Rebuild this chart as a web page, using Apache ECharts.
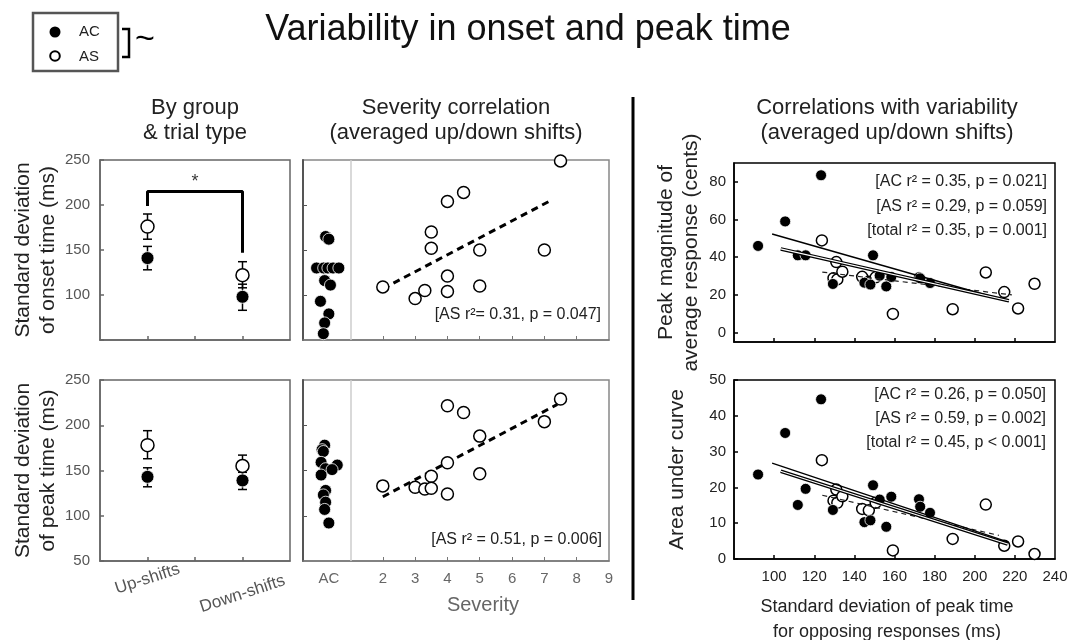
<!DOCTYPE html>
<html>
<head>
<meta charset="utf-8">
<title>Variability in onset and peak time</title>
<script src="https://cdn.jsdelivr.net/npm/echarts@6/dist/echarts.min.js"></script>
<style>
  html, body { margin: 0; padding: 0; background: #fff; }
  #chart { width: 1083px; height: 640px; }
</style>
</head>
<body>
<div id="chart"></div>
<script>
// ---- data ----
// left column: group means with error bar bounds, x = 1 up-shifts, x = 3 down-shifts
const trialTypes = ['Up-shifts', 'Down-shifts'];
const trialPos = [1, 3];
const onsetAC = [141, 98];
const onsetACLow = [128, 83];
const onsetACHigh = [154, 112];
const onsetAS = [176, 122];
const onsetASLow = [162, 108];
const onsetASHigh = [190, 137];
const peakAC = [143, 139];
const peakACLow = [132, 129];
const peakACHigh = [153, 148];
const peakAS = [178, 155];
const peakASLow = [163, 143];
const peakASHigh = [194, 167];
const sigBracket = [[1, 199], [1, 215], [3, 215], [3, 147]];
const sigStar = [2, 226];

// middle column: AC column (jittered) and AS severity correlation
const acOnsetJitter = [0.23, 0.33, -0.05, 0.17, 0.3, 0.46, 0.64, 0.2, 0.38, 0.07, 0.33, 0.2, 0.16];
const acOnsetSD = [165, 162, 130, 130, 130, 130, 130, 116, 111, 93, 79, 69, 57];
const acPeakJitter = [0.2, 0.12, 0.16, 0.09, 0.23, 0.59, 0.43, 0.09, 0.23, 0.16, 0.23, 0.2, 0.33];
const acPeakSD = [178, 173, 171, 159, 152, 156, 151, 145, 128, 123, 115, 107, 92];
const asSeverity = [2, 3, 3.3, 3.5, 3.5, 4, 4, 4, 4.5, 5, 5, 7, 7.5];
const asOnsetSD = [109, 96, 105, 170, 152, 204, 121, 104, 214, 150, 110, 150, 249];
const asPeakSD = [133, 131.5, 129.6, 143.7, 130.4, 221.5, 158.5, 124.1, 214, 188, 146.3, 204, 229];
const severityTicks = [2, 3, 4, 5, 6, 7, 8, 9];
const onsetFit = [[2, 107], [7.25, 206]];
const peakFit = [[2, 121], [7.4, 223]];

// right column: variability of peak time vs response measures
const acPeakTime = [92, 105.5, 111.8, 115.7, 123.4, 129.3, 145, 148, 149.3, 152.6, 155.9, 158.4, 172.2, 172.8, 177.7];
const acMagnitude = [46, 59, 41, 41, 83.5, 25.8, 26.5, 25.5, 41, 30.2, 24.5, 29.5, 29.4, 28.8, 26.3];
const acArea = [23.6, 35.2, 15.1, 19.6, 44.6, 13.7, 10.3, 10.8, 20.6, 16.6, 9.0, 17.4, 16.7, 14.6, 12.9];
const asPeakTime = [123.8, 129.6, 131, 131.5, 134, 143.9, 147.2, 150.6, 159.2, 189, 205.5, 214.7, 221.6, 229.8];
const asMagnitude = [48.9, 28.9, 37.4, 28.2, 32.3, 29.6, 27, 29.3, 9.9, 12.4, 31.9, 21.5, 12.8, 25.9];
const asArea = [27.6, 16.3, 19.4, 15.7, 17.5, 14, 13.6, 15.7, 2.4, 5.6, 15.2, 3.7, 4.9, 1.4];
const magFitAC = [[99, 52.3], [217, 16.5]];
const magFitTotal = [[103.3, 44.4], [217, 16.9]];
const magFitAS = [[124, 32.1], [218.5, 20]];
const areaFitAC = [[99, 26.8], [216.4, 4.8]];
const areaFitTotal = [[103.3, 24.5], [216.4, 4.2]];
const areaFitAS = [[124, 17.8], [212, 6.6]];
const peakTimeTicks = [100, 120, 140, 160, 180, 200, 220, 240];

const statsOnset = '[AS r²= 0.31, p = 0.047]';
const statsPeak = '[AS r² = 0.51, p = 0.006]';
const statsMagnitude = ['[AC r² = 0.35, p = 0.021]', '[AS r² = 0.29, p = 0.059]', '[total r² = 0.35, p = 0.001]'];
const statsArea = ['[AC r² = 0.26, p = 0.050]', '[AS r² = 0.59, p = 0.002]', '[total r² = 0.45, p < 0.001]'];

// ---- styles ----
const FONT = '"Liberation Sans", Arial, Helvetica, sans-serif';
const filled = { color: '#000', borderColor: '#fff', borderWidth: 0.8, opacity: 1 };
const open = { color: '#fff', borderColor: '#000', borderWidth: 1.5, opacity: 1 };

const chart = echarts.init(document.getElementById('chart'));

function zip(xs, ys) {
  return xs.map((x, i) => [x, ys[i]]);
}

function scatter(idx, data, style, size, z) {
  return {
    type: 'scatter', xAxisIndex: idx, yAxisIndex: idx,
    data: data, symbol: 'circle', symbolSize: size,
    itemStyle: style, z: z, silent: true
  };
}

function fitLine(idx, data, lineStyle, z) {
  return {
    type: 'line', xAxisIndex: idx, yAxisIndex: idx,
    data: data, showSymbol: false, symbol: 'none',
    lineStyle: lineStyle, z: z, silent: true
  };
}

function errorBars(idx, low, high) {
  return {
    type: 'custom', xAxisIndex: idx, yAxisIndex: idx, z: 2, silent: true,
    data: trialPos.map((x, i) => [x, low[i], high[i]]),
    renderItem: (params, api) => {
      const lo = api.coord([api.value(0), api.value(1)]);
      const hi = api.coord([api.value(0), api.value(2)]);
      const w = 4.5;
      const st = { stroke: '#000', lineWidth: 1.5 };
      return {
        type: 'group',
        children: [
          { type: 'line', shape: { x1: lo[0], y1: lo[1], x2: hi[0], y2: hi[1] }, style: st },
          { type: 'line', shape: { x1: hi[0] - w, y1: hi[1], x2: hi[0] + w, y2: hi[1] }, style: st },
          { type: 'line', shape: { x1: lo[0] - w, y1: lo[1], x2: lo[0] + w, y2: lo[1] }, style: st }
        ]
      };
    }
  };
}

const grayLine = { lineStyle: { color: '#666', width: 1.5 } };
const blackLine = { lineStyle: { color: '#000', width: 1.5 } };
const nameStyle = { color: '#222', fontSize: 21, fontFamily: FONT, lineHeight: 25 };

function leftY(idx, labels, name) {
  return {
    type: 'value', gridIndex: idx, min: 50, max: 250, interval: 50,
    axisLine: { show: true, onZero: false, ...grayLine },
    axisTick: { show: true, inside: true, length: 4, ...grayLine },
    axisLabel: { customValues: labels, color: '#555', fontSize: 15, fontFamily: FONT, margin: 10 },
    splitLine: { show: false },
    name: name, nameLocation: 'middle', nameRotate: 90, nameGap: 24,
    nameTextStyle: nameStyle
  };
}

const option = {
  animation: false,
  backgroundColor: '#fff',
  textStyle: { fontFamily: FONT },
  grid: [
    { left: 100, top: 160, width: 190, height: 180, show: true, borderColor: '#666', borderWidth: 1.5 },
    { left: 100, top: 380, width: 190, height: 181, show: true, borderColor: '#666', borderWidth: 1.5 },
    { left: 303, top: 160, width: 306, height: 180, show: true, borderColor: '#888', borderWidth: 1.5 },
    { left: 303, top: 380, width: 306, height: 181, show: true, borderColor: '#888', borderWidth: 1.5 },
    { left: 734, top: 163, width: 321, height: 179, show: true, borderColor: '#000', borderWidth: 1.5 },
    { left: 734, top: 380, width: 321, height: 179, show: true, borderColor: '#000', borderWidth: 1.5 }
  ],
  xAxis: [0, 1].map(i => ({
    type: 'value', gridIndex: i, min: 0, max: 4,
    axisLine: { show: true, onZero: false, ...grayLine },
    axisTick: { show: true, inside: true, length: 4, customValues: [1, 2, 3], ...grayLine },
    axisLabel: { show: false },
    splitLine: { show: false }
  })).concat([2, 3].map(i => ({
    type: 'value', gridIndex: i, min: -0.47, max: 9,
    axisLine: { show: true, onZero: false, lineStyle: { color: '#777', width: 1.5 } },
    axisTick: { show: true, inside: true, length: 4, customValues: severityTicks.slice(0, -1), lineStyle: { color: '#777' } },
    axisLabel: {
      show: i === 3, customValues: [0.33].concat(severityTicks),
      formatter: v => (v < 1 ? 'AC' : String(v)),
      color: '#666', fontSize: 15, fontFamily: FONT, margin: 10
    },
    splitLine: { show: false }
  }))).concat([4, 5].map(i => ({
    type: 'value', gridIndex: i, min: 80, max: 240, interval: 20,
    axisLine: { show: true, onZero: false, ...blackLine },
    axisTick: { show: true, inside: true, length: 4, customValues: peakTimeTicks.slice(0, -1), ...blackLine },
    axisLabel: {
      show: i === 5, customValues: peakTimeTicks,
      color: '#222', fontSize: 15, fontFamily: FONT, margin: 10
    },
    splitLine: { show: false }
  }))),
  yAxis: [
    leftY(0, [100, 150, 200, 250], 'Standard deviation\nof onset time (ms)'),
    leftY(1, [50, 100, 150, 200, 250], 'Standard deviation\nof peak time (ms)')
  ].concat([2, 3].map(i => ({
    type: 'value', gridIndex: i, min: 50, max: 250, interval: 50,
    axisLine: { show: true, onZero: false, lineStyle: { color: '#555', width: 2 } },
    axisTick: { show: true, inside: true, length: 4, customValues: [100, 150, 200], lineStyle: { color: '#555' } },
    axisLabel: { show: false },
    splitLine: { show: false }
  }))).concat([
    {
      type: 'value', gridIndex: 4, min: -5, max: 90,
      axisLine: { show: true, onZero: false, ...blackLine },
      axisTick: { show: true, inside: true, length: 4, customValues: [0, 20, 40, 60, 80], ...blackLine },
      axisLabel: { customValues: [0, 20, 40, 60, 80], color: '#222', fontSize: 15, fontFamily: FONT, margin: 8 },
      splitLine: { show: false },
      name: 'Peak magnitude of\naverage response (cents)', nameLocation: 'middle', nameRotate: 90, nameGap: 30,
      nameTextStyle: nameStyle
    },
    {
      type: 'value', gridIndex: 5, min: 0, max: 50, interval: 10,
      axisLine: { show: true, onZero: false, ...blackLine },
      axisTick: { show: true, inside: true, length: 4, ...blackLine },
      axisLabel: { color: '#222', fontSize: 15, fontFamily: FONT, margin: 8 },
      splitLine: { show: false },
      name: 'Area under curve', nameLocation: 'middle', nameRotate: 90, nameGap: 44,
      nameTextStyle: nameStyle
    }
  ]),
  series: [
    // left top: onset
    fitLine(0, sigBracket, { color: '#000', width: 3 }, 1),
    {
      type: 'scatter', xAxisIndex: 0, yAxisIndex: 0, data: [sigStar], symbolSize: 0, silent: true,
      label: { show: true, formatter: '*', position: 'inside', fontSize: 18, color: '#000', fontFamily: FONT }
    },
    errorBars(0, onsetASLow, onsetASHigh),
    errorBars(0, onsetACLow, onsetACHigh),
    scatter(0, zip(trialPos, onsetAS), open, 13, 3),
    scatter(0, zip(trialPos, onsetAC), filled, 13, 4),
    // left bottom: peak
    errorBars(1, peakASLow, peakASHigh),
    errorBars(1, peakACLow, peakACHigh),
    scatter(1, zip(trialPos, peakAS), open, 13, 3),
    scatter(1, zip(trialPos, peakAC), filled, 13, 4),
    // middle top
    {
      ...fitLine(2, onsetFit, { color: '#000', width: 3, type: [7, 5] }, 2),
      markLine: {
        silent: true, symbol: 'none', label: { show: false },
        lineStyle: { color: '#ccc', width: 1.5, type: 'solid' },
        data: [{ xAxis: 1 }]
      }
    },
    scatter(2, zip(acOnsetJitter, acOnsetSD), filled, 12, 3),
    scatter(2, zip(asSeverity, asOnsetSD), open, 12, 3),
    // middle bottom
    {
      ...fitLine(3, peakFit, { color: '#000', width: 3, type: [7, 5] }, 2),
      markLine: {
        silent: true, symbol: 'none', label: { show: false },
        lineStyle: { color: '#ccc', width: 1.5, type: 'solid' },
        data: [{ xAxis: 1 }]
      }
    },
    scatter(3, zip(acPeakJitter, acPeakSD), filled, 12, 3),
    scatter(3, zip(asSeverity, asPeakSD), open, 12, 3),
    // right top: magnitude
    scatter(4, zip(asPeakTime, asMagnitude), open, 11, 3),
    scatter(4, zip(acPeakTime, acMagnitude), filled, 11, 3),
    fitLine(4, magFitAS, { color: '#222', width: 1.2, type: [5, 4] }, 5),
    fitLine(4, magFitAC, { color: '#000', width: 1.4 }, 5),
    fitLine(4, magFitTotal, { color: '#000', width: 3.6 }, 5),
    fitLine(4, magFitTotal, { color: '#fff', width: 1.2 }, 6),
    // right bottom: area
    scatter(5, zip(asPeakTime, asArea), open, 11, 3),
    scatter(5, zip(acPeakTime, acArea), filled, 11, 3),
    fitLine(5, areaFitAS, { color: '#222', width: 1.2, type: [5, 4] }, 5),
    fitLine(5, areaFitAC, { color: '#000', width: 1.4 }, 5),
    fitLine(5, areaFitTotal, { color: '#000', width: 3.6 }, 5),
    fitLine(5, areaFitTotal, { color: '#fff', width: 1.2 }, 6)
  ]
};

chart.setOption(option);

// text and decorations placed around the panels
const txt = (text, x, y, size, extra) => ({
  type: 'text', x: x, y: y, silent: true,
  style: Object.assign({ text: text, fontSize: size, fontFamily: FONT, fill: '#222', align: 'center', verticalAlign: 'middle' }, extra || {})
});

const graphics = [
  // legend box
  { type: 'rect', shape: { x: 33, y: 13, width: 85, height: 58 }, style: { fill: '#fff', stroke: '#555', lineWidth: 2.5 } },
  { type: 'circle', shape: { cx: 55, cy: 32, r: 5.5 }, style: { fill: '#000' } },
  { type: 'circle', shape: { cx: 55, cy: 56, r: 4.8 }, style: { fill: '#fff', stroke: '#000', lineWidth: 2 } },
  txt('AC', 79, 32, 15, { align: 'left' }),
  txt('AS', 79, 57, 15, { align: 'left' }),
  { type: 'polyline', shape: { points: [[122, 29], [129, 29], [129, 57], [122, 57]] }, style: { fill: null, stroke: '#000', lineWidth: 2.5 } },
  txt('~', 145, 40, 34, { fill: '#000' }),
  // title and column headings
  txt('Variability in onset and peak time', 528, 30, 36, { fill: '#111' }),
  txt('By group\n& trial type', 195, 120, 22, { lineHeight: 25 }),
  txt('Severity correlation\n(averaged up/down shifts)', 456, 120, 22, { lineHeight: 25 }),
  txt('Correlations with variability\n(averaged up/down shifts)', 887, 120, 22, { lineHeight: 25 }),
  // column separator
  { type: 'line', shape: { x1: 633, y1: 97, x2: 633, y2: 600 }, style: { stroke: '#000', lineWidth: 3 } },
  // axis titles under the panels
  txt('Severity', 483, 605, 20, { fill: '#666' }),
  txt('Standard deviation of peak time\nfor opposing responses (ms)', 887, 620, 18, { lineHeight: 25 }),
  // statistics
  txt(statsOnset, 601, 315, 16, { align: 'right' }),
  txt(statsPeak, 602, 540, 16, { align: 'right' })
];
statsMagnitude.forEach((s, i) => graphics.push(txt(s, 1047, 182 + i * 24.5, 16, { align: 'right' })));
statsArea.forEach((s, i) => graphics.push(txt(s, 1046, 395 + i * 24, 16, { align: 'right' })));

// rotated trial type labels under the lower left panel
const labelDrop = [18, 33];
trialTypes.forEach((t, i) => {
  const px = chart.convertToPixel({ xAxisIndex: 1 }, trialPos[i]);
  graphics.push(txt(t, px, 561 + labelDrop[i], 17, { fill: '#555' }));
  graphics[graphics.length - 1].rotation = Math.PI * 18 / 180;
});

chart.setOption({ graphic: graphics });
</script>
</body>
</html>
